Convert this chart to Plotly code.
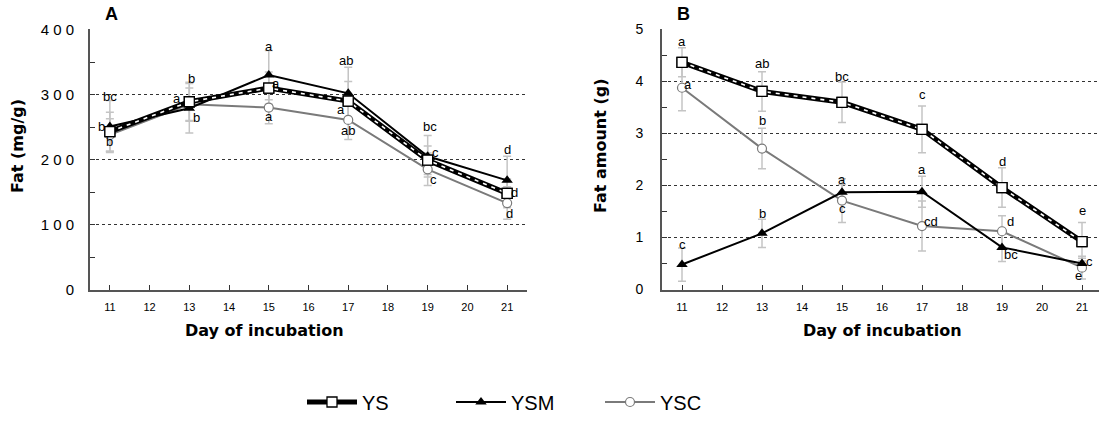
import plotly.graph_objects as go

# ---------------- data ----------------
days = [11, 13, 15, 17, 19, 21]
x_tick_vals = list(range(11, 22))

# Panel A: fat concentration (mg/g)
ys_conc = [243, 289, 310, 290, 199, 148]
ysm_conc = [251, 279, 330, 302, 205, 168]
ysc_conc = [238, 285, 280, 261, 185, 133]
ys_conc_err = [30, 30, 25, 30, 22, 22]
ysm_conc_err = [40, 38, 38, 40, 32, 37]
ysc_conc_err = [25, 25, 25, 30, 25, 25]
ys_conc_lbl = ["b", "a", "a", "a", "c", "d"]
ysm_conc_lbl = ["b", "b", "a", "ab", "bc", "d"]
ysc_conc_lbl = ["bc", "b", "a", "ab", "c", "d"]
a_tick_vals = [0, 100, 200, 300, 400]
a_tick_text = ["0", "1 0 0", "2 0 0", "3 0 0", "4 0 0"]

# Panel B: fat amount (g)
ys_amt = [4.37, 3.81, 3.60, 3.08, 1.96, 0.92]
ysm_amt = [0.48, 1.08, 1.87, 1.88, 0.81, 0.50]
ysc_amt = [3.88, 2.71, 1.71, 1.22, 1.12, 0.42]
ys_amt_err = [0.28, 0.38, 0.39, 0.45, 0.38, 0.37]
ysm_amt_err = [0.32, 0.27, 0.15, 0.30, 0.27, 0.10]
ysc_amt_err = [0.44, 0.39, 0.42, 0.48, 0.30, 0.22]
ys_amt_lbl = ["a", "ab", "bc", "c", "d", "e"]
ysm_amt_lbl = ["c", "b", "a", "a", "bc", "c"]
ysc_amt_lbl = ["a", "b", "c", "cd", "d", "e"]
b_tick_vals = [0, 1, 2, 3, 4, 5]
b_tick_text = ["0", "1", "2", "3", "4", "5"]

series_names = ["YS", "YSM", "YSC"]

# ---------------- label placement (pixel offsets dx, dy; dy down) ----------------
off_a = {
    "YS": [(0, 10), (-12, -3), (7, -5), (-7, 8), (8, -8), (7, -1)],
    "YSM": [(-8, 0), (7, 9), (0, -29), (-2, -33), (2, -30), (0, -31)],
    "YSC": [(0, -38), (2, -26), (0, 9), (0, 11), (6, 10), (2, 10)],
}
off_b = {
    "YS": [(0, -21), (0, -28), (0, -26), (0, -35), (0, -26), (0, -31)],
    "YSM": [(0, -20), (0, -20), (0, -13), (0, -22), (9, 7), (7, -2)],
    "YSC": [(6, -3), (0, -28), (0, 8), (9, -5), (8, -10), (-4, 8)],
}

W, H = 1099, 425
def fx(p):
    return p / W
def fy(p):
    return 1 - p / H

fig = go.Figure()

ERR_COLOR = "#c4c4c4"
panels = [
    ("x", "y", [ys_conc, ysm_conc, ysc_conc], [ys_conc_err, ysm_conc_err, ysc_conc_err],
     [ys_conc_lbl, ysm_conc_lbl, ysc_conc_lbl], off_a),
    ("x2", "y2", [ys_amt, ysm_amt, ysc_amt], [ys_amt_err, ysm_amt_err, ysc_amt_err],
     [ys_amt_lbl, ysm_amt_lbl, ysc_amt_lbl], off_b),
]

for pi, (xa, ya, vals, errs, lbls, offs) in enumerate(panels):
    show = pi == 0
    # error bars underneath
    for v, e in zip(vals, errs):
        fig.add_trace(go.Scatter(
            x=days, y=v, mode="markers", xaxis=xa, yaxis=ya,
            marker=dict(size=1, color="rgba(0,0,0,0)"),
            error_y=dict(type="data", array=e, color=ERR_COLOR, thickness=1.5, width=4),
            showlegend=False, hoverinfo="skip"))
    ys, ysm, ysc = vals
    # YSC
    fig.add_trace(go.Scatter(
        x=days, y=ysc, mode="lines+markers", name="YSC", xaxis=xa, yaxis=ya,
        line=dict(color="#7a7a7a", width=2),
        marker=dict(symbol="circle", size=9, color="white", line=dict(color="#7a7a7a", width=1.2)),
        showlegend=show, legendrank=3))
    # YSM
    fig.add_trace(go.Scatter(
        x=days, y=ysm, mode="lines+markers", name="YSM", xaxis=xa, yaxis=ya,
        line=dict(color="black", width=2),
        marker=dict(symbol="triangle-up", size=10, color="black"),
        showlegend=show, legendrank=2))
    # YS (double line: thick black + white dashes)
    fig.add_trace(go.Scatter(
        x=days, y=ys, mode="lines+markers", name="YS", xaxis=xa, yaxis=ya,
        line=dict(color="black", width=5),
        marker=dict(symbol="square", size=10, color="white", line=dict(color="black", width=1.3)),
        showlegend=show, legendrank=1))
    fig.add_trace(go.Scatter(
        x=days, y=ys, mode="lines", xaxis=xa, yaxis=ya,
        line=dict(color="white", width=1.6, dash="4px,5px"),
        showlegend=False, hoverinfo="skip"))
    fig.add_trace(go.Scatter(
        x=days, y=ys, mode="markers", xaxis=xa, yaxis=ya,
        marker=dict(symbol="square", size=10, color="white", line=dict(color="black", width=1.3)),
        showlegend=False, hoverinfo="skip"))
    # letters
    for name, v, lb in zip(series_names, vals, lbls):
        for d, val, t, (dx, dy) in zip(days, v, lb, offs[name]):
            fig.add_annotation(x=d, y=val, xref=xa, yref=ya, text=t, showarrow=False,
                               xshift=dx, yshift=-dy, xanchor="center", yanchor="middle",
                               font=dict(family="Arial", size=13, color="black"))

axis_common = dict(showline=True, linecolor="#555555", linewidth=2, mirror=False,
                   zeroline=False, automargin=False)
xcommon = dict(axis_common, tickmode="array", tickvals=x_tick_vals, ticks="inside",
               ticklen=5, tickcolor="#333333", tickwidth=1, showgrid=False,
               tickfont=dict(family="Arial", size=11, color="black"),
               ticklabelstandoff=6)

y_dom = [fy(289.5), fy(29)]
fig.update_layout(
    width=W, height=H, margin=dict(l=0, r=0, t=0, b=0, autoexpand=False),
    paper_bgcolor="white", plot_bgcolor="white",
    xaxis=dict(xcommon, domain=[fx(90), fx(527)], range=[10.5, 21.5], anchor="y"),
    xaxis2=dict(xcommon, domain=[fx(662), 1.0], range=[10.5, 10.5 + 437 / 40], anchor="y2"),
    yaxis=dict(axis_common, domain=y_dom, range=[0, 401], tickmode="array",
               tickvals=a_tick_vals, ticktext=a_tick_text, ticks="inside", ticklen=5,
               tickcolor="#333333", showgrid=True, gridcolor="#333333", gridwidth=1,
               griddash="dot", anchor="x", ticklabelstandoff=11,
               tickfont=dict(family="Arial", size=15, color="black"),
               minor=dict(dtick=50, ticks="inside", ticklen=5, tickcolor="#333333", showgrid=False)),
    yaxis2=dict(axis_common, domain=y_dom, range=[0, 5.01], tickmode="array",
                tickvals=b_tick_vals, ticktext=b_tick_text, ticks="inside", ticklen=5,
                tickcolor="#333333", showgrid=True, gridcolor="#333333", gridwidth=1,
                griddash="dot", anchor="x2", ticklabelstandoff=14,
                tickfont=dict(family="Arial", size=14, color="black"),
                minor=dict(dtick=0.5, ticks="inside", ticklen=5, tickcolor="#333333", showgrid=False)),
    legend=dict(orientation="h", x=fx(302), xanchor="left", y=fy(402), yanchor="middle",
                font=dict(family="Arial", size=20, color="black"),
                entrywidth=84, entrywidthmode="pixels", itemwidth=50,
                traceorder="normal", bgcolor="rgba(0,0,0,0)"),
    showlegend=True,
)

title_font = dict(family="DejaVu Sans", size=16, color="black", weight="bold")
def paper_text(px, py, text, font, angle=0):
    fig.add_annotation(xref="paper", yref="paper", x=fx(px), y=fy(py), text=text,
                       textangle=angle, showarrow=False, font=font,
                       xanchor="center", yanchor="middle")

paper_text(17, 146, "Fat (mg/g)", title_font, -90)
paper_text(600, 146, "Fat amount (g)", title_font, -90)
paper_text(264, 330, "Day of incubation", title_font)
paper_text(882, 330, "Day of incubation", title_font)
panel_font = dict(family="Arial", size=18, color="black", weight="bold")
paper_text(111, 14, "A", panel_font)
paper_text(683, 14, "B", panel_font)

fig.write_html("out.html")
